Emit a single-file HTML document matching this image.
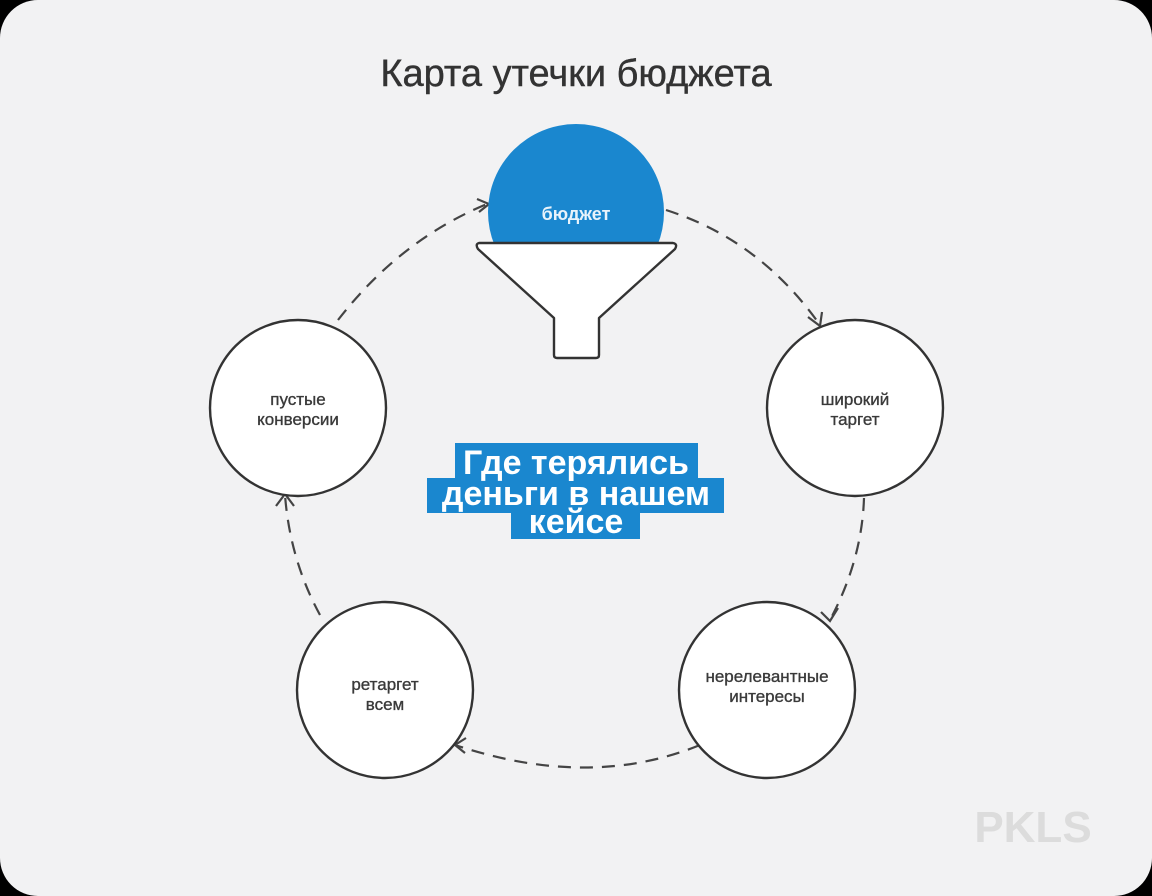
<!DOCTYPE html>
<html><head><meta charset="utf-8"><style>
html,body{margin:0;padding:0;width:1152px;height:896px;background:#000;overflow:hidden}
.card{position:absolute;left:0;top:0;width:1152px;height:896px;background:#f2f2f3;border-radius:38px}
svg{position:absolute;left:0;top:0}
text{font-family:"Liberation Sans","DejaVu Sans",sans-serif}
</style></head><body>
<div class="card"></div>
<svg width="1152" height="896" viewBox="0 0 1152 896">
<text x="576" y="86" text-anchor="middle" font-size="38" fill="#333" stroke="#333" stroke-width="0.4">Карта утечки бюджета</text>
<g fill="none" stroke="#444" stroke-width="2.2" stroke-dasharray="13 9">
<path d="M338 320 Q400 240 487 204"/>
<path d="M666 210 Q760 240 820 325"/>
<path d="M864 498 Q862 560 830 620"/>
<path d="M700 745 Q590 790 455 745"/>
<path d="M320 615 Q290 560 285 495"/>
</g>
<g fill="none" stroke="#444" stroke-width="2.2">
<path d="M477 199 L489 204 L479 212"/>
<path d="M808 317 L820 326 L822 312"/>
<path d="M821 612 L830 621 L838 608"/>
<path d="M466 738 L455 745 L465 753"/>
<path d="M276 506 L285 494 L294 506"/>
</g>
<circle cx="576" cy="212" r="88" fill="#1a87cf"/>
<text x="576" y="220" text-anchor="middle" font-size="18" font-weight="bold" fill="#e8f3fb">бюджет</text>
<path d="M479 243 L673 243 Q678 244 675 249 L599 318 L599 355 Q599 358 596 358 L557 358 Q554 358 554 355 L554 318 L478 249 Q475 244 479 243 Z" fill="#fff" stroke="#333" stroke-width="2.4" stroke-linejoin="round"/>
<g fill="#fff" stroke="#333" stroke-width="2.4">
<circle cx="298" cy="408" r="88"/>
<circle cx="855" cy="408" r="88"/>
<circle cx="767" cy="690" r="88"/>
<circle cx="385" cy="690" r="88"/>
</g>
<g font-size="17" fill="#3a3a3a" text-anchor="middle" stroke="#3a3a3a" stroke-width="0.35">
<text x="298" y="405">пустые</text><text x="298" y="425">конверсии</text>
<text x="855" y="405">широкий</text><text x="855" y="425">таргет</text>
<text x="767" y="682">нерелевантные</text><text x="767" y="702">интересы</text>
<text x="385" y="690">ретаргет</text><text x="385" y="710">всем</text>
</g>
<rect x="455" y="443" width="243" height="36" fill="#1a87cf"/>
<rect x="427" y="478" width="297" height="35" fill="#1a87cf"/>
<rect x="511" y="512" width="129" height="27" fill="#1a87cf"/>
<g font-size="34" font-weight="bold" fill="#fff" text-anchor="middle">
<text x="576" y="474">Где терялись</text>
<text x="576" y="505">деньги в нашем</text>
<text x="576" y="533">кейсе</text>
</g>
<text x="1033" y="842" text-anchor="middle" font-size="44" font-weight="bold" fill="#dcdcdc">PKLS</text>
</svg>
</body></html>
